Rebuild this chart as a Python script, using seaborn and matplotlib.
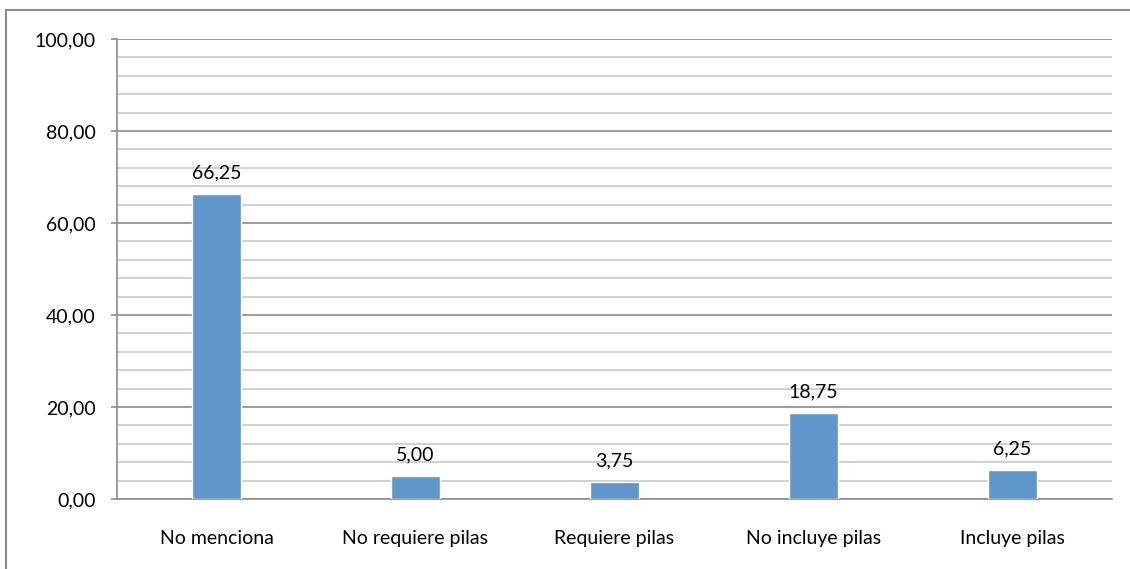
import matplotlib
matplotlib.use("Agg")
import matplotlib.pyplot as plt
import seaborn as sns
import pandas as pd
import numpy as np
from matplotlib.patches import Rectangle

categories = ["No menciona", "No requiere pilas", "Requiere pilas", "No incluye pilas", "Incluye pilas"]
values = [66.25, 5.00, 3.75, 18.75, 6.25]
yticks = [0, 20, 40, 60, 80, 100]

sns.set_theme(style="white")
plt.rcParams['font.family'] = ['Lato', 'DejaVu Sans']

df = pd.DataFrame({"cat": categories, "val": values})

fig = plt.figure(figsize=(11.3, 5.69), dpi=100)
ax = fig.add_axes([117/1130, 1-499/569, (1112-117)/1130, (499-39)/569])

sns.barplot(data=df, x="cat", y="val", color="#5F96CB", width=0.25, ax=ax, zorder=3, saturation=1)

ax.set_ylim(0, 100)
ax.set_xlim(-0.5, len(categories)-0.5)
ax.set_yticks(yticks)
ax.set_yticklabels([f"{v:.2f}".replace(".", ",") for v in yticks])
ax.set_yticks(np.arange(0, 101, 4), minor=True)
ax.grid(which="major", axis="y", color="#8C8C8C", linewidth=1.2, zorder=0)
ax.grid(which="minor", axis="y", color="#C8C8C8", linewidth=1.2, zorder=0)
ax.set_xlabel("")
ax.set_ylabel("")

for s in ["top", "right"]:
    ax.spines[s].set_visible(False)
for s in ["left", "bottom"]:
    ax.spines[s].set_color("#8C8C8C")
    ax.spines[s].set_linewidth(1.2)

FS = 14
ax.tick_params(axis="y", which="major", left=True, length=4.5, width=1.2, color="#8C8C8C",
               labelsize=FS, pad=11, labelcolor="black")
ax.tick_params(axis="y", which="minor", left=False)
ax.tick_params(axis="x", bottom=False, labelsize=FS, pad=16, labelcolor="black")

for i, v in enumerate(values):
    ax.annotate(f"{v:.2f}".replace(".", ","), (i, v), xytext=(0, 9), textcoords="offset points",
                ha="center", va="bottom", fontsize=FS, color="black")

fig.patches.append(Rectangle((6/1130, -0.1), 1.2, 1.1 - 10/569, transform=fig.transFigure,
                             fill=False, edgecolor="#8C8C8C", linewidth=1.5))

fig.savefig("out.png", dpi=100)
